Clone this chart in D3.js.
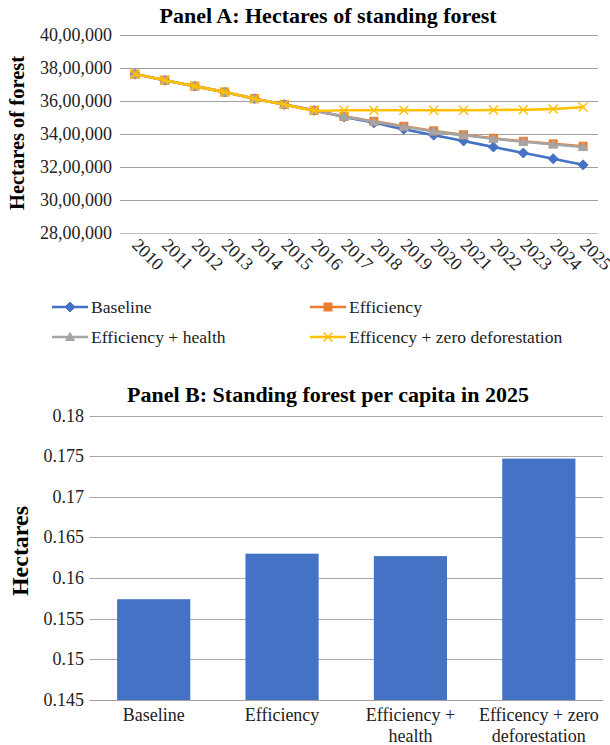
<!DOCTYPE html>
<html>
<head>
<meta charset="utf-8">
<script src="https://cdn.jsdelivr.net/npm/d3@7"></script>
<style>
  html, body { margin: 0; padding: 0; background: #fff; }
</style>
</head>
<body>
<svg id="chart" width="610" height="745"></svg>
<script>
// ---- Panel A data ----
const years = ["2010","2011","2012","2013","2014","2015","2016","2017","2018","2019","2020","2021","2022","2023","2024","2025"];
const baseline   = [3760000,3723000,3687000,3651000,3611000,3576000,3540000,3500000,3465000,3426000,3390000,3355000,3318000,3282000,3247000,3210000];
const efficiency = [3760000,3723000,3687000,3651000,3611000,3576000,3540000,3504000,3474000,3444000,3416000,3392000,3371000,3353000,3337000,3323000];
const effHealth  = [3760000,3723000,3687000,3651000,3611000,3576000,3540000,3503000,3471000,3441000,3413000,3389000,3368000,3350000,3334000,3318000];
const zeroDefor  = [3760000,3723000,3687000,3651000,3611000,3576000,3540000,3541000,3541000,3541000,3541000,3541000,3542000,3544000,3549000,3561000];
const seriesNames = ["Baseline","Efficiency","Efficiency + health","Efficency + zero deforestation"];
const yTicksA = [2800000,3000000,3200000,3400000,3600000,3800000,4000000];

// ---- Panel B data ----
const barCats = ["Baseline","Efficiency","Efficiency + health","Efficency + zero deforestation"];
const barLabelLines = [["Baseline"],["Efficiency"],["Efficiency +","health"],["Efficency + zero","deforestation"]];
const barValues = [0.1574,0.1630,0.1627,0.1747];
const yTicksB = [0.145,0.15,0.155,0.16,0.165,0.17,0.175,0.18];
const yTickLabelsB = ["0.145","0.15","0.155","0.16","0.165","0.17","0.175","0.18"];

const colors = ["#4472C4","#ED7D31","#A5A5A5","#FFC000"];
const markers = ["diamond","square","triangle","x"];

const FONT = "Liberation Serif";
const svg = d3.select("#chart");

function txt(parent) {
  return parent.append("text").attr("font-family", FONT);
}

function indianFormat(v) {
  const s = String(Math.round(v));
  const last3 = s.slice(-3);
  let rest = s.slice(0, -3);
  const parts = [];
  while (rest.length > 2) { parts.unshift(rest.slice(-2)); rest = rest.slice(0, -2); }
  if (rest.length) parts.unshift(rest);
  return parts.length ? parts.join(",") + "," + last3 : last3;
}

function drawMarker(g, type, x, y, color) {
  if (type === "diamond") {
    const h = 5;
    g.append("path").attr("d", `M${x},${y-h}L${x+h},${y}L${x},${y+h}L${x-h},${y}Z`)
      .attr("fill", color).attr("stroke", color).attr("stroke-width", 1);
  } else if (type === "square") {
    const s = 8;
    g.append("rect").attr("x", x - s/2).attr("y", y - s/2).attr("width", s).attr("height", s)
      .attr("fill", color).attr("stroke", color).attr("stroke-width", 1);
  } else if (type === "triangle") {
    g.append("path").attr("d", `M${x},${y-4.5}L${x+4.5},${y+3.5}L${x-4.5},${y+3.5}Z`)
      .attr("fill", color).attr("stroke", color).attr("stroke-width", 1);
  } else if (type === "x") {
    const h = 4.5;
    g.append("path").attr("d", `M${x-h},${y-h}L${x+h},${y+h}M${x-h},${y+h}L${x+h},${y-h}`)
      .attr("stroke", color).attr("stroke-width", 1.5).attr("fill", "none");
  }
}

// ================= Panel A =================
const xA = d3.scaleBand().domain(years).range([120, 598]);
const yA = d3.scaleLinear().domain([2800000, 4000000]).range([232.5, 34.5]);

txt(svg).attr("x", 328).attr("y", 23).attr("text-anchor", "middle")
  .attr("font-size", 22).attr("font-weight", "bold").text("Panel A: Hectares of standing forest");

const gA = svg.append("g");
gA.selectAll("line.grid").data(yTicksA).join("line")
  .attr("x1", 120).attr("x2", 598)
  .attr("y1", d => Math.round(yA(d)) + 0.5).attr("y2", d => Math.round(yA(d)) + 0.5)
  .attr("stroke", d => d === 2800000 ? "#bfbfbf" : "#a0a0a0").attr("stroke-width", 1);
yTicksA.forEach(d => {
  txt(gA).attr("x", 112).attr("y", yA(d) + 6).attr("text-anchor", "end")
    .attr("font-size", 18).attr("fill", "#222").text(indianFormat(d));
});

years.forEach(d => {
  txt(gA).attr("transform", `translate(${xA(d) + xA.bandwidth()/2 - 4},${246}) rotate(45)`)
    .attr("text-anchor", "start").attr("font-size", 18).attr("fill", "#222").text(d);
});

txt(svg).attr("transform", "translate(24,133) rotate(-90)").attr("text-anchor", "middle")
  .attr("font-size", 20.5).attr("font-weight", "bold").text("Hectares of forest");

const allSeries = [baseline, efficiency, effHealth, zeroDefor];
const line = d3.line()
  .x((d, i) => xA(years[i]) + xA.bandwidth()/2)
  .y(d => yA(d))
  .curve(d3.curveCatmullRom.alpha(0.5));

allSeries.forEach((vals, si) => {
  const g = gA.append("g");
  g.append("path").datum(vals).attr("d", line).attr("fill", "none")
    .attr("stroke", colors[si]).attr("stroke-width", 2.6).attr("stroke-linejoin", "round");
  vals.forEach((v, i) => {
    drawMarker(g, markers[si], xA(years[i]) + xA.bandwidth()/2, yA(v), colors[si]);
  });
});

// Legend
const legendPos = [[52, 307], [310, 307], [52, 337], [310, 337]];
seriesNames.forEach((name, i) => {
  const [lx, ly] = legendPos[i];
  const g = svg.append("g");
  g.append("line").attr("x1", lx).attr("x2", lx + 36).attr("y1", ly).attr("y2", ly)
    .attr("stroke", colors[i]).attr("stroke-width", 2.6);
  drawMarker(g, markers[i], lx + 18, ly, colors[i]);
  txt(g).attr("x", lx + 39).attr("y", ly + 6).attr("font-size", 17.6).attr("fill", "#222").text(name);
});

// ================= Panel B =================
const xB = d3.scaleBand().domain(barCats).range([89.5, 603]).paddingInner(0.43).paddingOuter(0.215);
const yB = d3.scaleLinear().domain([0.145, 0.18]).range([700, 415.5]);

txt(svg).attr("x", 328).attr("y", 402).attr("text-anchor", "middle")
  .attr("font-size", 22).attr("font-weight", "bold").text("Panel B: Standing forest per capita in 2025");

const gB = svg.append("g");
gB.selectAll("line.grid").data(yTicksB).join("line")
  .attr("x1", 89.5).attr("x2", 603)
  .attr("y1", d => Math.round(yB(d)) + 0.5).attr("y2", d => Math.round(yB(d)) + 0.5)
  .attr("stroke", d => d === 0.145 ? "#a0a0a0" : "#a8a8a8").attr("stroke-width", 1);
yTicksB.forEach((d, i) => {
  txt(gB).attr("x", 84).attr("y", yB(d) + 6).attr("text-anchor", "end")
    .attr("font-size", 18).attr("fill", "#222").text(yTickLabelsB[i]);
});

gB.selectAll("rect.bar").data(barValues).join("rect")
  .attr("x", (d, i) => xB(barCats[i])).attr("width", xB.bandwidth())
  .attr("y", d => yB(d)).attr("height", d => yB(0.145) - yB(d))
  .attr("fill", "#4472C4");

barLabelLines.forEach((lines, i) => {
  const cx = xB(barCats[i]) + xB.bandwidth()/2;
  const t = txt(gB).attr("text-anchor", "middle").attr("font-size", 18).attr("fill", "#222");
  lines.forEach((ln, j) => {
    t.append("tspan").attr("x", cx).attr("y", 721 + j * 21).text(ln);
  });
});

txt(svg).attr("transform", "translate(28,551) rotate(-90)").attr("text-anchor", "middle")
  .attr("font-size", 24).attr("font-weight", "bold").text("Hectares");
</script>
</body>
</html>
